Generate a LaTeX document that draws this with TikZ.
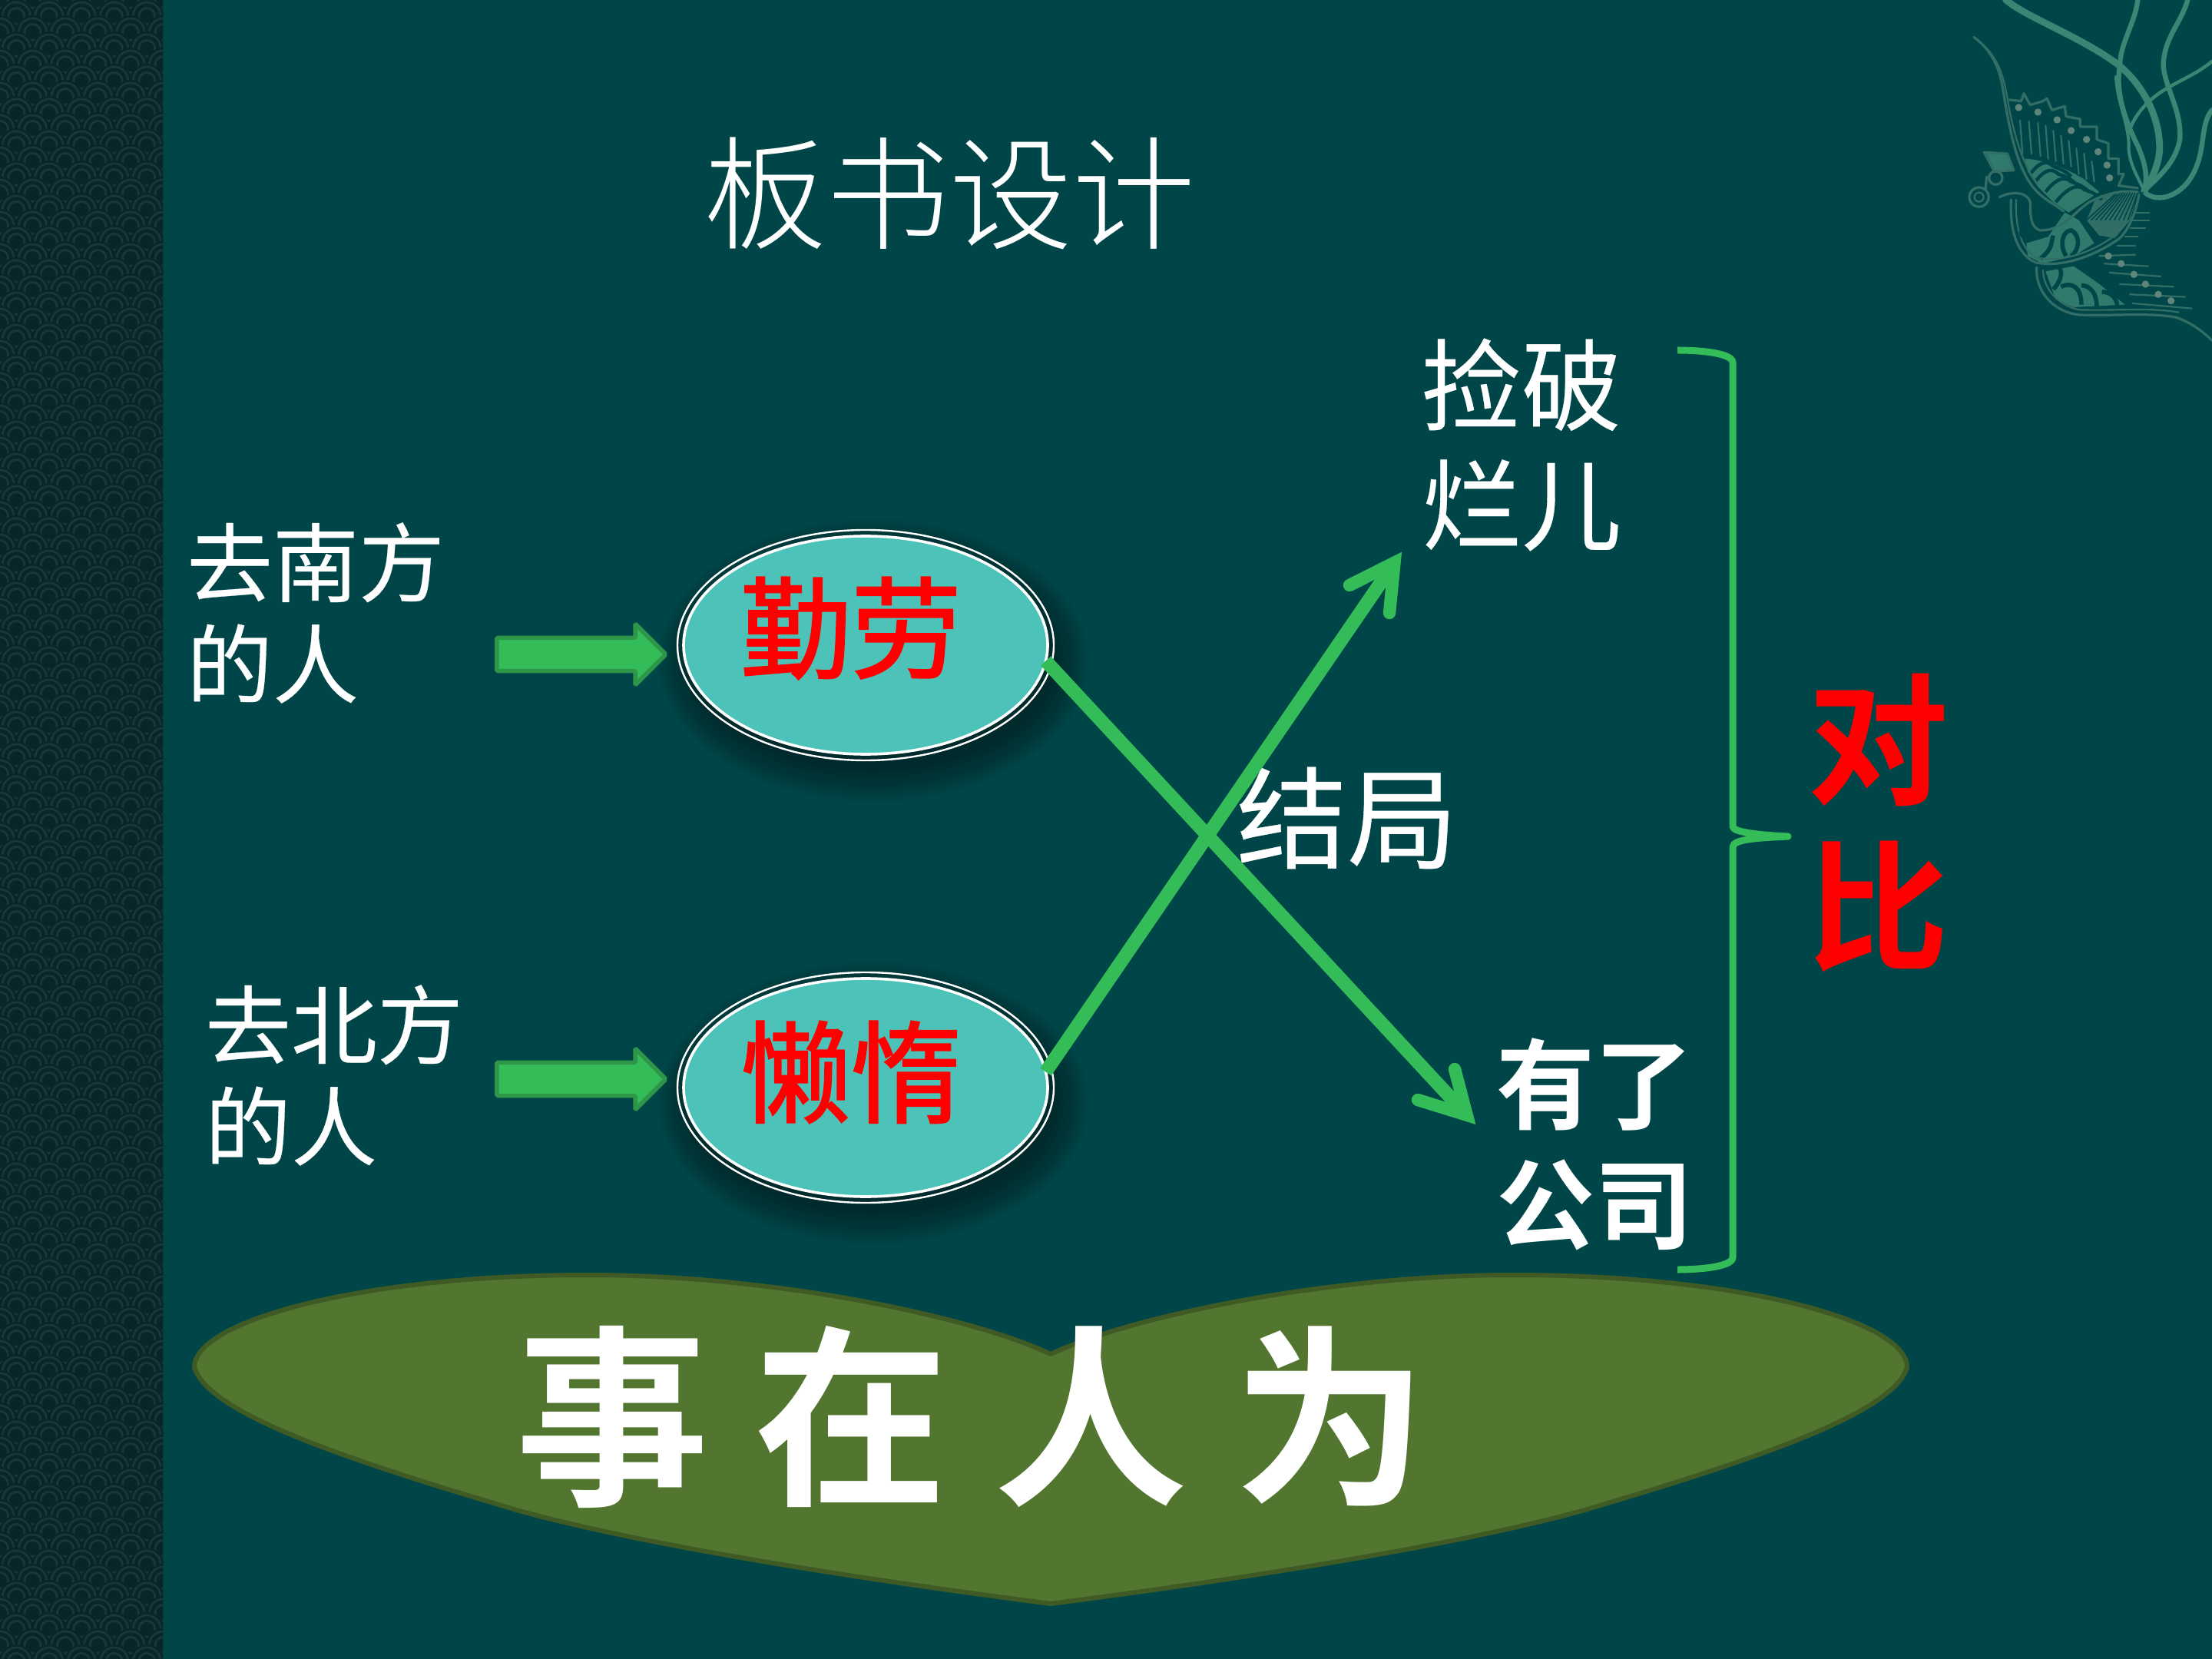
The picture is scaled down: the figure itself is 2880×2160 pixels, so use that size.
\documentclass[tikz,border=0pt]{standalone}
\usepackage{fontspec}
\setmainfont{Noto Sans CJK SC}[FakeBold=0.25]
\newfontfamily\boldcjk{Noto Sans CJK SC Bold}
\newfontfamily\midcjk{Noto Sans CJK SC}[FakeBold=1.6]
\newfontfamily\thincjk{Noto Sans CJK SC Light}
\usetikzlibrary{shapes.geometric,shapes.arrows}
\definecolor{slide}{HTML}{004648}
\definecolor{sidebar}{HTML}{0A2529}
\definecolor{scalering}{HTML}{183739}
\definecolor{ovalfill}{HTML}{4DC2B8}
\definecolor{leafgreen}{HTML}{52752F}
\definecolor{leafedge}{HTML}{3F5A25}
\definecolor{linegreen}{HTML}{34BC58}
\definecolor{arrowedge}{HTML}{2D9649}
\definecolor{ribbon}{HTML}{3B8574}
\definecolor{plume}{HTML}{2F7A6C}
\definecolor{birdline}{HTML}{336E66}
\definecolor{birddot}{HTML}{5F857B}
\definecolor{shadowtone}{HTML}{001E21}
\tikzset{
  x=0.25pt,y=-0.25pt,
  txt/.style={inner sep=0pt,outer sep=0pt,white,align=left},
  oval/.style={ellipse,draw=white,line width=0.9pt,fill=ovalfill,inner sep=0pt,outer sep=0pt,
    minimum width=118.5pt,minimum height=71pt},
  fatarrow/.style={single arrow,fill=linegreen,draw=arrowedge,line width=1.4pt,inner xsep=0pt,inner ysep=4.7pt,outer sep=0pt,
    minimum height=55pt,single arrow head extend=4.5pt,rounded corners=0.4pt},
  link/.style={linegreen,line width=4.4pt},
  barb/.style={linegreen,line width=4.1pt,line cap=round,line join=miter,miter limit=10},
  strand/.style={ribbon,line cap=round,line join=round},
  feather/.style={birdline,line width=0.55pt,line cap=round,line join=round},
}
\begin{document}
\begin{tikzpicture}
\useasboundingbox (0,0) rectangle (2880,2160);
\fill[slide] (0,0) rectangle (2880,2160);

% Patterned band on the left edge
\begin{scope}
  \clip (0,0) rectangle (212,2160);
  \fill[sidebar] (0,0) rectangle (212,2160);
  \foreach \r in {0,...,104}{
    \pgfmathsetmacro{\off}{mod(\r,2)*21.25}
    \foreach \n in {-1,...,5}{
      \pgfmathsetmacro{\cx}{\n*42.5+\off}
      \pgfmathsetmacro{\cy}{\r*21}
      \fill[sidebar] (\cx,\cy) circle [radius=22];
      \draw[scalering,line width=0.7pt] (\cx,\cy) circle [radius=18];
      \draw[scalering,line width=0.7pt] (\cx,\cy) circle [radius=10.5];
    }
  }
\end{scope}

% Ribbons and bird ornament, top right corner
\begin{scope}[shift={(2500,0)},scale=0.3333]
  \clip (-100,0) rectangle (1140,1380);
  \draw[strand,line width=2.2pt] (335,0) .. controls (420,70) and (620,140) .. (770,250) .. controls (860,320) and (940,450) .. (935,590) .. controls (930,650) and (900,710) .. (875,745);
  \draw[strand,line width=1.6pt] (850,0) .. controls (840,90) and (780,170) .. (780,260) .. controls (760,370) and (810,490) .. (850,570) .. controls (880,640) and (890,690) .. (875,745);
  \draw[strand,line width=1.6pt] (1045,0) .. controls (1020,90) and (950,150) .. (950,260) .. controls (960,350) and (1020,430) .. (1015,540) .. controls (1000,640) and (920,700) .. (875,745);
  \draw[strand,line width=1.1pt] (1140,240) .. controls (1080,290) and (1000,320) .. (940,360) .. controls (880,400) and (830,460) .. (815,520);
  \draw[strand,line width=1.6pt] (1140,430) .. controls (1090,490) and (1120,590) .. (1060,690) .. controls (1020,760) and (930,800) .. (875,750);
  \draw[strand,line width=1pt] (765,300) .. controls (770,400) and (810,470) .. (815,560) .. controls (810,630) and (850,690) .. (875,745);
  % filled plumage
  \fill[plume] (410,620) .. controls (480,625) and (560,650) .. (640,700) -- (700,750) -- (640,790) -- (580,830) -- (520,790) -- (460,730) -- (420,670) -- cycle;
  \fill[plume] (415,950) -- (500,925) -- (565,830) -- (620,860) -- (680,950) -- (600,1000) -- (480,1030) -- (420,1000) -- cycle;
  \fill[plume] (490,1060) -- (600,1040) -- (700,1110) -- (800,1190) -- (600,1200) -- (530,1170) -- cycle;
  \fill[plume] (260,600) -- (340,600) -- (360,665) -- (290,670) -- cycle;
  \fill[birdline] (690,765) -- (850,750) -- (820,860) -- (760,930) -- (700,920) -- (650,860) -- cycle;
  % dark bands across the plumage
  \foreach \ax/\ay/\bx/\by in {430/680/520/650,450/710/540/680,490/750/590/710,530/790/640/740}{
    \draw[slide,line width=1.1pt] (\ax,\ay) .. controls ({\ax+30},{\ay-40}) and ({\bx-30},{\by-30}) .. (\bx,\by) .. controls ({\bx+30},{\by+10}) and ({\bx+50},{\by+20}) .. ({\bx+70},{\by+40});
  }
  \draw[slide,line width=1.4pt] (470,1010) .. controls (520,970) and (510,950) .. (520,920);
  \draw[slide,line width=1.4pt] (570,1000) .. controls (540,950) and (560,900) .. (590,900) .. controls (630,920) and (620,980) .. (590,1000);
  \draw[slide,line width=1.4pt] (520,1130) .. controls (550,1100) and (560,1060) .. (540,1040);
  \draw[slide,line width=1.4pt] (630,1190) .. controls (630,1120) and (590,1100) .. (550,1120);
  \draw[slide,line width=1.4pt] (690,1200) .. controls (690,1140) and (660,1115) .. (630,1115);
  \draw[slide,line width=1.4pt] (770,1200) .. controls (770,1160) and (740,1140) .. (710,1140);
  \draw[slide,line width=1.2pt] (640,1050) .. controls (640,1030) and (620,1020) .. (590,1020);
  % hatching on the wing
  \foreach \k in {0,...,11}{
    \draw[slide,line width=0.4pt] ({650+\k*18},860) -- ({760+\k*10},{760-\k});
  }
  % outlines
  \draw[feather,line width=0.8pt] (210,145) .. controls (270,190) and (305,250) .. (320,330) .. controls (345,480) and (370,640) .. (440,730) .. controls (480,780) and (530,800) .. (560,825);
  \draw[feather] (235,165) .. controls (300,220) and (325,290) .. (340,380) .. controls (360,500) and (395,640) .. (460,720);
  \draw[feather,line width=0.8pt] (850,750) .. controls (780,740) and (720,760) .. (660,790) .. controls (600,830) and (560,900) .. (470,900) .. controls (430,890) and (430,840) .. (430,790) .. controls (420,750) and (360,745) .. (310,770);
  \draw[feather,line width=0.8pt] (355,780) .. controls (350,880) and (370,990) .. (450,1025) .. controls (560,1050) and (700,990) .. (780,930) .. controls (820,890) and (845,820) .. (855,760);
  \draw[feather] (375,780) .. controls (370,870) and (390,970) .. (450,1005) .. controls (560,1030) and (680,980) .. (760,920);
  \draw[feather,line width=0.8pt] (455,1045) .. controls (450,1130) and (510,1215) .. (620,1230) .. controls (760,1235) and (900,1220) .. (1000,1240) .. controls (1060,1260) and (1110,1300) .. (1140,1330);
  \draw[feather] (480,1055) .. controls (480,1120) and (530,1190) .. (620,1210) .. controls (760,1215) and (900,1200) .. (1010,1220);
  \draw[feather,line width=0.8pt] (350,390) -- (395,395) -- (405,365) -- (430,410) -- (480,395) -- (495,385) -- (515,430) -- (565,415) -- (570,455) -- (625,465) -- (625,495) -- (690,495) -- (690,545) -- (735,560) -- (735,620) -- (775,620) -- (775,680) -- (795,680) -- (775,725) -- (850,735);
  \draw[feather] (700,1000) -- (840,995) (720,1030) -- (890,1040) (740,1065) -- (940,1080) (780,1110) -- (990,1120) (820,1150) -- (1035,1160) (830,1185) -- (1060,1205);
  \draw[feather] (840,830) -- (895,830) (830,860) -- (895,860) (820,890) -- (880,890) (800,925) -- (850,925) (770,960) -- (840,960);
  \foreach \px/\ya/\yb in {390/470/600,425/475/600,460/480/610,490/490/620,520/510/630,550/530/640,580/550/650,610/580/680,640/600/700,670/630/710}{
    \draw[feather] (\px,\ya) -- ({\px+10},\yb);
  }
  \foreach \px/\py in {385/420,460/438,535/468,590/510,650/545,695/593,730/645,740/695,735/1000,785/1030,835/1072,880/1110,930/1150,980/1175}{
    \fill[birddot] (\px,\py) circle [radius=14];
  }
  % head and curls
  \draw[feather,line width=0.8pt] (250,595) -- (340,600) -- (365,665) -- (290,670) -- cycle;
  \draw[feather,line width=0.8pt] (230,770) circle [radius=38];
  \draw[feather] (230,770) circle [radius=18];
  \draw[feather,line width=0.8pt] (295,695) circle [radius=26];
  \draw[feather,line width=0.8pt] (255,740) -- (260,690);
  \fill[slide] (410,910) circle [radius=24];
\end{scope}

% Title
\node[txt,font=\fontsize{40}{40}\selectfont\thincjk] (title) at (1236,252) {板书设计};

% Green leaf banner
\path[fill=leafgreen,draw=leafedge,line width=1.5pt,line join=round]
  (253,1780) .. controls (253,1720) and (470,1660) .. (766,1660)
  .. controls (1000,1660) and (1260,1712) .. (1368,1763)
  .. controls (1476,1712) and (1736,1660) .. (1970,1660)
  .. controls (2266,1660) and (2483,1720) .. (2483,1780)
  .. controls (2466,1840) and (2286,1900) .. (2060,1967)
  .. controls (1886,2015) and (1586,2060) .. (1368,2088)
  .. controls (1150,2060) and (850,2015) .. (676,1967)
  .. controls (450,1900) and (270,1840) .. (253,1780) -- cycle;

% Soft shadows under the two ovals
\foreach \cy in {860,1436}{
  \foreach \i in {0,...,11}{
    \fill[shadowtone,opacity=0.075] (1137,\cy) ellipse [x radius={280-4*\i},y radius={184-4*\i}];
  }
}

% Ovals with their thin outer ring
\draw[white,line width=0.6pt] (1127,840) ellipse [x radius=245,y radius=150];
\draw[white,line width=0.6pt] (1127,1416) ellipse [x radius=245,y radius=150];
\node[oval] (qin) at (1127,840) {};
\node[oval] (lan) at (1127,1416) {};
\node[txt,red,font=\fontsize{36}{36}\selectfont\midcjk] (qinText) at (1108,818) {勤劳};
\node[txt,red,font=\fontsize{36}{36}\selectfont\midcjk] (lanText) at (1108,1396) {懒惰};

% Left-hand labels and block arrows
\node[txt,anchor=west,font=\fontsize{28}{33}\selectfont] (south) at (243,798) {去南方\\的人};
\node[txt,anchor=west,font=\fontsize{28}{33}\selectfont] (north) at (267,1400) {去北方\\的人};
\node[fatarrow] (arrowA) at (746,852) {};
\node[fatarrow] (arrowB) at (746,1405) {};

% Outcome labels
\node[txt,anchor=west,font=\fontsize{32.5}{39}\selectfont] (rag) at (1851,579) {捡破\\烂儿};
\node[txt,anchor=west,font=\fontsize{32}{39}\selectfont\boldcjk] (firm) at (1948,1490) {有了\\公司};
\node[txt,font=\fontsize{36}{36}\selectfont] (ending) at (1754,1065) {结局};

% Crossing connectors with open arrowheads
\coordinate (apexUp) at (1815.5,732.6);
\coordinate (upBarbA) at (1757,762);
\coordinate (upBarbB) at (1809,798);
\coordinate (apexDown) at (1909.7,1451.8);
\coordinate (downBarbA) at (1894,1392);
\coordinate (downBarbB) at (1846,1432);
\draw[link] (qin.-5) -- (apexDown);
\draw[barb] (downBarbA) -- (apexDown) -- (downBarbB);
\draw[link] (lan.5) -- (apexUp);
\draw[barb] (upBarbA) -- (apexUp) -- (upBarbB);

% Bracket and its caption
\coordinate (braceTop) at (2184,456);
\coordinate (braceBot) at (2184,1653);
\coordinate (braceTip) at (2328,1089);
\draw[linegreen,line width=2.25pt,line join=round]
  (braceTop) .. controls (2215,456) and (2256,460) .. (2256,472)
  -- (2256,1076) .. controls (2256,1083) and (2285,1087) .. (braceTip)
  .. controls (2285,1091) and (2256,1093) .. (2256,1103)
  -- (2256,1637) .. controls (2256,1649) and (2215,1653) .. (braceBot);
\node[txt,red,align=center,font=\fontsize{46}{54}\selectfont\boldcjk] (contrast) at (2445,1071) {对\\比};

% Banner text
\node[txt,font=\fontsize{63}{63}\selectfont\boldcjk] (motto) at (1265,1845) {事\hspace{15pt}在\hspace{15pt}人\hspace{15pt}为};
\end{tikzpicture}
\end{document}
